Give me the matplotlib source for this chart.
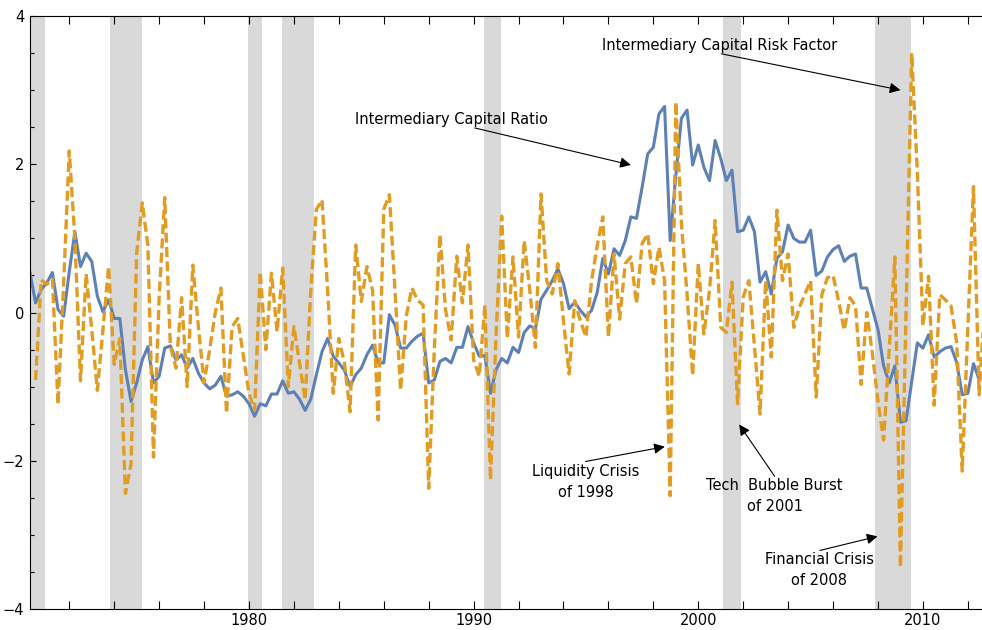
import numpy as np
import matplotlib
matplotlib.use("Agg")
import matplotlib.pyplot as plt
from matplotlib.ticker import MultipleLocator, FixedLocator

# quarterly observations, 1970Q1 .. 2012Q4 (plotted at year + quarter/4)
start_year = 1970.25
n_quarters = 171

# standardized intermediary capital ratio
capital_ratio = [
    0.54, 0.13, 0.31, 0.40, 0.54, 0.04, -0.05, 0.55, 1.09, 0.62,
    0.80, 0.69, 0.22, 0.01, 0.17, -0.08, -0.08, -0.77, -1.20, -0.95,
    -0.64, -0.46, -0.95, -0.86, -0.48, -0.45, -0.64, -0.57, -0.75, -0.62,
    -0.82, -0.95, -1.03, -0.98, -0.86, -1.13, -1.11, -1.07, -1.13, -1.23,
    -1.40, -1.23, -1.26, -1.10, -1.10, -0.92, -1.09, -1.07, -1.17, -1.32,
    -1.17, -0.84, -0.53, -0.35, -0.59, -0.68, -0.78, -1.00, -0.84, -0.75,
    -0.57, -0.44, -0.68, -0.68, -0.03, -0.17, -0.48, -0.48, -0.39, -0.32,
    -0.28, -0.95, -0.91, -0.66, -0.62, -0.68, -0.47, -0.47, -0.19, -0.41,
    -0.59, -0.58, -1.09, -0.77, -0.62, -0.68, -0.47, -0.54, -0.27, -0.18,
    -0.22, 0.18, 0.30, 0.43, 0.59, 0.39, 0.05, 0.14, 0.03, -0.06,
    0.03, 0.27, 0.73, 0.52, 0.86, 0.77, 0.97, 1.29, 1.27, 1.69,
    2.14, 2.23, 2.68, 2.78, 0.97, 1.85, 2.62, 2.73, 1.99, 2.26,
    1.96, 1.78, 2.32, 2.08, 1.78, 1.92, 1.09, 1.11, 1.29, 1.09,
    0.41, 0.55, 0.25, 0.73, 0.82, 1.18, 1.00, 0.95, 0.95, 1.11,
    0.50, 0.56, 0.75, 0.85, 0.90, 0.69, 0.76, 0.79, 0.33, 0.33,
    0.05, -0.23, -0.72, -0.95, -0.72, -1.48, -1.46, -0.93, -0.41, -0.48,
    -0.30, -0.60, -0.53, -0.48, -0.46, -0.67, -1.11, -1.09, -0.69, -0.90,
    -0.79,
]

# risk factor (innovations), first quarter missing
risk_factor = [
    np.nan, -0.91, 0.44, 0.38, 0.45, -1.24, 0.40, 2.18, 1.00, -0.92,
    0.52, -0.23, -1.05, -0.23, 0.62, -0.70, -0.35, -2.44, -2.04, 0.80,
    1.48, 0.90, -1.95, 0.20, 1.55, -0.45, -0.75, 0.20, -1.00, 0.64,
    -0.20, -0.95, -0.50, 0.00, 0.33, -1.36, -0.19, -0.08, -0.59, -1.09,
    -1.32, 0.55, -0.50, 0.53, -0.26, 0.60, -1.00, -0.19, -0.68, -1.18,
    0.30, 1.39, 1.52, 0.31, -1.09, -0.35, -0.68, -1.34, 0.91, 0.15,
    0.62, 0.30, -1.45, 1.39, 1.59, 0.30, -1.05, -0.05, 0.33, 0.17,
    0.10, -2.37, -0.50, 1.05, 0.04, -0.37, 0.76, 0.13, 0.91, -0.64,
    -0.86, 0.10, -2.26, -0.30, 1.30, -0.35, 0.75, -0.33, 0.97, 0.30,
    -0.47, 1.60, 0.43, 0.25, 0.66, -0.11, -0.83, 0.16, -0.11, -0.33,
    0.43, 0.90, 1.29, -0.33, 0.79, -0.09, 0.66, 0.75, 0.12, 0.93,
    1.06, 0.39, 0.88, 0.43, -2.47, 2.84, 1.20, 0.25, -0.85, 0.66,
    -0.29, 0.30, 1.24, -0.20, -0.27, 0.41, -1.23, 0.21, 0.43, -0.45,
    -1.37, 0.43, -0.60, 1.38, 0.43, 0.79, -0.20, 0.07, 0.25, 0.43,
    -1.14, 0.24, 0.47, 0.50, 0.15, -0.24, 0.20, 0.09, -0.97, 0.00,
    -0.55, -1.20, -1.72, -0.50, 0.75, -3.44, 0.00, 3.50, 1.90, -0.18,
    0.49, -1.25, 0.24, 0.17, 0.09, -0.40, -2.14, -0.20, 1.70, -1.11,
    0.10,
]

# NBER recessions (shaded)
rec_start = [1969.9, 1973.8, 1979.97, 1981.45, 1990.45, 2001.1, 2007.86]
rec_end = [1970.9, 1975.22, 1980.56, 1982.89, 1991.21, 2001.88, 2009.45]

dates = start_year + 0.25 * np.arange(n_quarters)

blue = '#5E81B5'
orange = '#E19C24'

fig = plt.figure(figsize=(9.82, 6.30), dpi=100)
ax = fig.add_axes([0.0305, 0.0333, 0.9695, 0.9413])

for s, e in zip(rec_start, rec_end):
    ax.axvspan(s, e, color='#d9d9d9', lw=0, zorder=0)

ax.plot(dates, capital_ratio, color=blue, lw=2.2, zorder=2)
ax.plot(dates, risk_factor, color=orange, lw=2.4, linestyle=(0, (3.0, 1.3)), zorder=3)

ax.set_xlim(1970.25, 2012.63)
ax.set_ylim(-4, 4)

ax.xaxis.set_major_locator(FixedLocator([1980, 1990, 2000, 2010]))
ax.xaxis.set_minor_locator(MultipleLocator(2))
ax.yaxis.set_major_locator(FixedLocator([-4, -2, 0, 2, 4]))
ax.yaxis.set_minor_locator(MultipleLocator(0.5))

ax.tick_params(axis='x', which='both', direction='in', top=True, bottom=True,
               length=5.5, width=0.8, labelsize=10.5, pad=3)
ax.tick_params(axis='y', which='major', direction='in', length=4.5, width=0.8,
               labelsize=10.5, pad=4)
ax.tick_params(axis='y', which='minor', direction='in', length=3, width=0.8)

ax.spines['right'].set_visible(False)
for side in ['left', 'top', 'bottom']:
    ax.spines[side].set_linewidth(0.8)

# labels and arrows
fs = 10.5
arrow = dict(arrowstyle='-|>', color='black', lw=0.8, mutation_scale=16,
             shrinkA=0, shrinkB=0)

ax.text(1995.71, 3.60, 'Intermediary Capital Risk Factor', fontsize=fs,
        ha='left', va='center')
ax.annotate('', xy=(2009.0, 3.0), xytext=(2001.03, 3.49), arrowprops=arrow)

ax.text(1984.71, 2.60, 'Intermediary Capital Ratio', fontsize=fs,
        ha='left', va='center')
ax.annotate('', xy=(1997.0, 1.99), xytext=(1990.05, 2.49), arrowprops=arrow)

ax.text(1994.98, -2.28, 'Liquidity Crisis\nof 1998', fontsize=fs,
        ha='center', va='center', multialignment='center', linespacing=1.5)
ax.annotate('', xy=(1998.51, -1.81), xytext=(1994.98, -2.01), arrowprops=arrow)

ax.text(2003.4, -2.48, 'Tech  Bubble Burst\nof 2001', fontsize=fs,
        ha='center', va='center', multialignment='center', linespacing=1.5)
ax.annotate('', xy=(2001.82, -1.51), xytext=(2003.4, -2.21), arrowprops=arrow)

ax.text(2005.39, -3.47, 'Financial Crisis\nof 2008', fontsize=fs,
        ha='center', va='center', multialignment='center', linespacing=1.5)
ax.annotate('', xy=(2007.98, -3.02), xytext=(2005.41, -3.21), arrowprops=arrow)

fig.savefig('out.png', dpi=100)
